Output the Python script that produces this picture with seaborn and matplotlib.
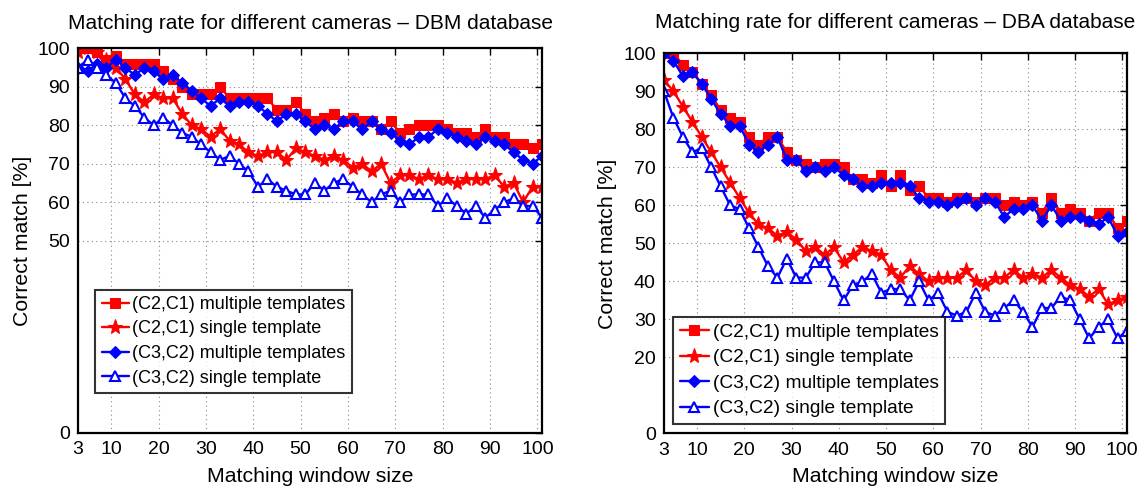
import numpy as np
import pandas as pd
import matplotlib
matplotlib.use("Agg")
import matplotlib.pyplot as plt
import seaborn as sns

# Matching window sizes (odd sizes from 3 to 101)
window = list(range(3, 102, 2))

# DBM database
dbm_c21_multi = [100, 100, 99, 97, 98, 96, 96, 96, 96, 94, 92, 90, 88, 88, 88, 90, 87, 87, 87, 87,
                 87, 84, 84, 86, 83, 81, 82, 83, 81, 82, 81, 81, 79, 81, 78, 79, 80, 80, 80, 79,
                 78, 78, 77, 79, 77, 77, 75, 75, 74, 75]
dbm_c21_single = [99, 100, 99, 97, 95, 92, 88, 86, 88, 87, 87, 83, 80, 79, 77, 79, 76, 75, 73, 72,
                  73, 73, 71, 74, 73, 72, 71, 72, 71, 69, 70, 68, 70, 65, 67, 67, 66, 67, 66, 66,
                  65, 66, 66, 66, 67, 64, 65, 60, 64, 64]
dbm_c32_multi = [95, 94, 96, 95, 97, 95, 93, 95, 94, 92, 93, 91, 89, 87, 85, 87, 85, 86, 86, 85,
                 83, 81, 83, 83, 81, 79, 80, 79, 81, 81, 79, 81, 79, 78, 76, 75, 77, 77, 79, 78,
                 77, 76, 75, 77, 76, 75, 73, 71, 70, 72]
dbm_c32_single = [95, 97, 95, 93, 91, 87, 85, 82, 80, 82, 80, 78, 77, 75, 73, 71, 72, 70, 68, 64,
                  66, 64, 63, 62, 62, 65, 63, 65, 66, 64, 62, 60, 62, 63, 60, 62, 62, 62, 59, 61,
                  59, 57, 59, 56, 58, 60, 61, 59, 59, 56]

# DBA database
dba_c21_multi = [100, 100, 97, 95, 92, 89, 85, 83, 82, 78, 76, 78, 78, 74, 72, 71, 70, 71, 71, 70,
                 67, 67, 66, 68, 65, 68, 64, 65, 62, 62, 61, 62, 62, 61, 62, 62, 60, 61, 60, 61,
                 58, 62, 58, 59, 58, 56, 58, 58, 54, 56]
dba_c21_single = [93, 90, 86, 82, 78, 74, 70, 66, 62, 58, 55, 54, 52, 53, 51, 48, 49, 47, 49, 45,
                  47, 49, 48, 47, 43, 41, 44, 42, 40, 41, 41, 41, 43, 40, 39, 41, 41, 43, 41, 42,
                  41, 43, 41, 39, 38, 36, 38, 34, 35, 36]
dba_c32_multi = [100, 98, 94, 95, 92, 88, 84, 81, 81, 76, 74, 76, 78, 72, 72, 69, 70, 69, 70, 68,
                 67, 65, 65, 66, 66, 66, 65, 62, 61, 61, 60, 61, 62, 60, 62, 61, 57, 59, 59, 60,
                 56, 60, 56, 57, 57, 56, 55, 57, 52, 53]
dba_c32_single = [90, 83, 78, 74, 75, 70, 65, 60, 59, 54, 49, 44, 41, 46, 41, 41, 45, 45, 40, 35,
                  39, 40, 42, 37, 38, 38, 35, 40, 35, 37, 32, 31, 32, 37, 32, 31, 33, 35, 32, 28,
                  33, 33, 36, 35, 30, 25, 28, 30, 25, 27]

labels = ["(C2,C1) multiple templates", "(C2,C1) single template",
          "(C3,C2) multiple templates", "(C3,C2) single template"]
x_ticks = [3, 10, 20, 30, 40, 50, 60, 70, 80, 90, 100]
dbm_yticks = [0, 50, 60, 70, 80, 90, 100]
dba_yticks = [0, 20, 30, 40, 50, 60, 70, 80, 90, 100]

sns.set_theme(style="white")
plt.rcParams["font.family"] = ["Liberation Sans", "DejaVu Sans"]
plt.rcParams.update({
    "text.color": "black",
    "axes.labelcolor": "black",
    "xtick.color": "black",
    "ytick.color": "black",
})

RED = "#ff0000"
BLUE = "#0000ff"
styles = [
    dict(color=RED, marker="s", markersize=6.5, markerfacecolor=RED, markeredgecolor=RED),
    dict(color=RED, marker="*", markersize=11, markerfacecolor=RED, markeredgecolor=RED),
    dict(color=BLUE, marker="D", markersize=6.5, markerfacecolor=BLUE, markeredgecolor=BLUE),
    dict(color=BLUE, marker="^", markersize=7.5, markerfacecolor="white",
         markeredgecolor=BLUE, markeredgewidth=1.5),
]

fig = plt.figure(figsize=(11.46, 4.87), dpi=100)
ax1 = fig.add_axes([0.0681, 0.1109, 0.4049, 0.7899])
ax2 = fig.add_axes([0.5794, 0.1099, 0.4040, 0.7807])


def draw(ax, series, yticks, title, title_pad):
    for vals, lab, st in zip(series, labels, styles):
        df = pd.DataFrame({"window": window, "match": vals})
        sns.lineplot(data=df, x="window", y="match", ax=ax, label=lab,
                     linewidth=1.7, **st)
    ax.set_xlim(3, 101)
    ax.set_ylim(0, 100)
    ax.set_xticks(x_ticks)
    ax.set_yticks(yticks)
    ax.tick_params(direction="in", length=5, width=1, top=True, right=True,
                   labelsize=14, pad=6, colors="black")
    ax.grid(True, linestyle=(0, (1, 3)), color="#888888", linewidth=0.8)
    for sp in ax.spines.values():
        sp.set_linewidth(1.6)
        sp.set_color("black")
    ax.set_xlabel("Matching window size", fontsize=15.3, labelpad=6)
    ax.set_ylabel("Correct match [%]", fontsize=15.3, labelpad=4)
    ax.set_title(title, fontsize=15, pad=title_pad)
    ax.set_axisbelow(True)


draw(ax1, [dbm_c21_multi, dbm_c21_single, dbm_c32_multi, dbm_c32_single], dbm_yticks,
     "Matching rate for different cameras \u2013 DBM database", 14)
draw(ax2, [dba_c21_multi, dba_c21_single, dba_c32_multi, dba_c32_single], dba_yticks,
     "Matching rate for different cameras \u2013 DBA database", 18)

for ax, anchor, fs in ((ax1, (0.037, 0.104), 13), (ax2, (0.02, 0.025), 13.8)):
    leg = ax.legend(loc="lower left", bbox_to_anchor=anchor, fontsize=fs,
                    frameon=True, fancybox=False, edgecolor="black",
                    borderpad=0.35, labelspacing=0.42, handlelength=1.5,
                    handletextpad=0.2, borderaxespad=0.0)
    leg.get_frame().set_linewidth(1.5)

fig.savefig("out.png", dpi=100)
